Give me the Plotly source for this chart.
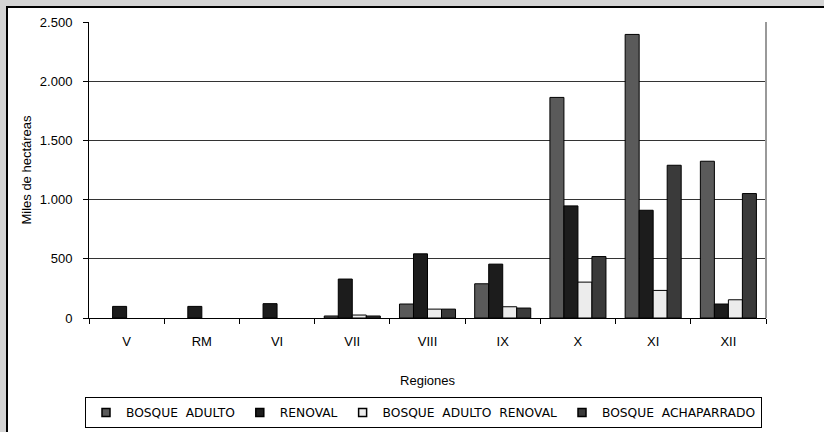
import plotly.graph_objects as go

# Superficie de bosque nativo por región (miles de hectáreas)
regiones = ['V', 'RM', 'VI', 'VII', 'VIII', 'IX', 'X', 'XI', 'XII']
bosque_adulto = [None, None, None, 17, 118, 289, 1863, 2395, 1324]
renoval = [98, 98, 121, 329, 542, 455, 947, 910, 118]
adulto_renoval = [None, None, None, 25, 75, 95, 303, 233, 154]
achaparrado = [None, None, None, 17, 75, 84, 519, 1290, 1051]

series = [
    ('BOSQUE  ADULTO', bosque_adulto, '#5a5a5a'),
    ('RENOVAL', renoval, '#1c1c1c'),
    ('BOSQUE  ADULTO  RENOVAL', adulto_renoval, '#ececec'),
    ('BOSQUE  ACHAPARRADO', achaparrado, '#3a3a3a'),
]

fig = go.Figure()
for name, vals, col in series:
    fig.add_trace(go.Bar(x=regiones, y=vals, name=name, showlegend=False,
                         marker=dict(color=col, line=dict(color='#000', width=1))))
# small square legend symbols, like the original
for name, vals, col in series:
    fig.add_trace(go.Scatter(x=[None], y=[None], name=name, mode='markers',
                             marker=dict(symbol='square', size=8, color=col,
                                         line=dict(color='#000', width=1.5))))

W, H = 824, 432
L, R, T, B = 89, 58, 22, 114
pw, ph = W - L - R, H - T - B

def px(x):
    return (x - L) / pw

def py(y):
    return (H - B - y) / ph

fig.update_layout(
    width=W, height=H,
    margin=dict(l=L, r=R, t=T, b=B, autoexpand=False),
    paper_bgcolor='#d4d4d4',
    plot_bgcolor='white',
    separators=',.',
    barmode='group',
    bargap=0.255,
    bargroupgap=0,
    font=dict(family='Liberation Sans, Arial', size=13, color='#000'),
    showlegend=True,
    legend=dict(orientation='h', x=px(85), xanchor='left', y=py(397), yanchor='top',
                bordercolor='#000', borderwidth=1, bgcolor='white',
                font=dict(family='DejaVu Sans', size=12.25), itemwidth=30,
                traceorder='normal'),
    shapes=[
        # white panel with black border on left/top
        dict(type='rect', xref='paper', yref='paper', x0=px(7), x1=px(W + 5),
             y0=py(H + 5), y1=py(7), fillcolor='white',
             line=dict(color='#000', width=2), layer='below'),
        # right border of plot area
        dict(type='line', xref='paper', yref='paper', x0=1, x1=1, y0=0, y1=1,
             line=dict(color='#999', width=2)),
    ],
)

fig.update_xaxes(
    title=dict(text='Regiones', standoff=28, font=dict(size=13)),
    showline=True, linecolor='#000', linewidth=1,
    ticks='outside', tickson='boundaries', ticklen=5, tickcolor='#000',
    ticklabelstandoff=11,
    showgrid=False,
)
fig.update_yaxes(
    title=dict(text='Miles de hectáreas', standoff=5, font=dict(size=13)),
    range=[0, 2500], dtick=500, tickformat=',d',
    showline=True, linecolor='#000', linewidth=1,
    ticks='outside', ticklen=5, tickcolor='#000',
    ticklabelstandoff=8,
    showgrid=True, gridcolor='#333', gridwidth=1,
    zeroline=False,
)

fig.write_html('out.html', config={'displayModeBar': False},
               post_script="document.body.style.margin='0px';")
